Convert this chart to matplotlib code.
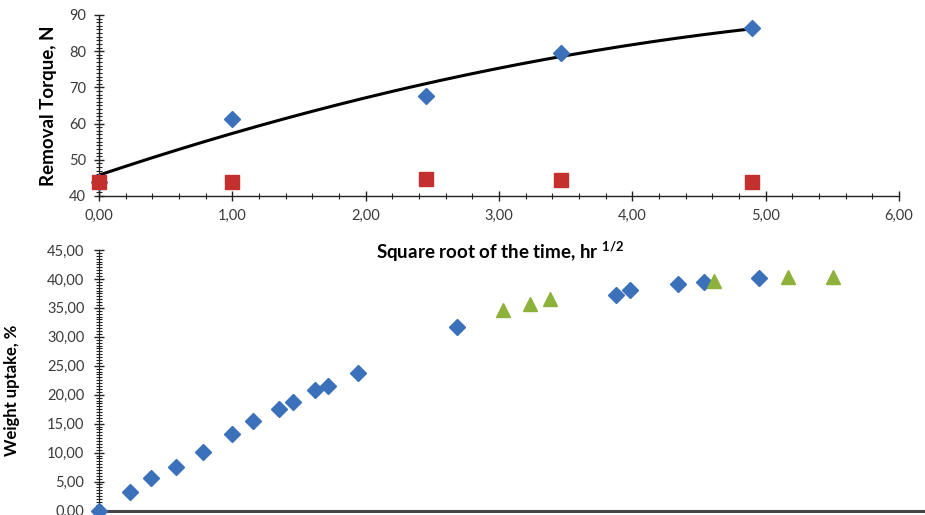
import numpy as np
import matplotlib
matplotlib.use("Agg")
import matplotlib.pyplot as plt
from matplotlib.ticker import MultipleLocator, FuncFormatter

plt.rcParams['font.family'] = ['Lato', 'DejaVu Sans']
plt.rcParams['mathtext.fontset'] = 'custom'
plt.rcParams['mathtext.rm'] = 'Lato'
plt.rcParams['mathtext.bf'] = 'Lato:bold'

# top chart: removal torque vs sqrt(time)
torque_x = [0.0, 1.0, 2.449, 3.464, 4.899]
torque_blue = [44.0, 61.3, 67.6, 79.5, 86.4]
torque_red = [43.8, 43.9, 44.7, 44.4, 43.9]

# bottom chart: weight uptake
uptake_blue_x = [0.0, 0.233, 0.39, 0.575, 0.782, 0.995, 1.157, 1.353, 1.458,
                 1.62, 1.72, 1.94, 2.683, 3.876, 3.983, 4.34, 4.54, 4.95]
uptake_blue_y = [0.0, 3.26, 5.69, 7.6, 10.16, 13.28, 15.42, 17.45, 18.72,
                 20.75, 21.49, 23.7, 31.63, 37.3, 38.1, 39.15, 39.44, 40.14]
uptake_green_x = [3.03, 3.23, 3.38, 4.61, 5.17, 5.51]
uptake_green_y = [34.7, 35.7, 36.5, 39.7, 40.4, 40.4]

blue = '#3b70bb'
red = '#c3302d'
green = '#8db23b'
tick_col = '#3a3a3a'

def comma(fmt):
    return FuncFormatter(lambda v, p: (fmt % v).replace('.', ','))

fig = plt.figure(figsize=(9.25, 5.15), dpi=100)

# ---- top
ax1 = fig.add_axes([99/925, 1-196/515, 800/925, 181/515])
coef = np.polyfit(torque_x, torque_blue, 2)
xs = np.linspace(0, max(torque_x), 200)
ax1.plot(xs, np.polyval(coef, xs), color='black', lw=2.2, zorder=2)
ax1.plot(torque_x, torque_blue, 'D', color=blue, ms=8.5, zorder=3, clip_on=False)
ax1.plot(torque_x, torque_red, 's', color=red, ms=10.5, zorder=4, clip_on=False)
ax1.set_xlim(0, 6)
ax1.set_ylim(40, 90)
ax1.xaxis.set_major_locator(MultipleLocator(1))
ax1.xaxis.set_minor_locator(MultipleLocator(0.2))
ax1.yaxis.set_major_locator(MultipleLocator(10))
ax1.yaxis.set_minor_locator(MultipleLocator(1))
ax1.xaxis.set_major_formatter(comma('%.2f'))
for s in ['top', 'right']:
    ax1.spines[s].set_visible(False)
for s in ['left', 'bottom']:
    ax1.spines[s].set_color('#222222')
    ax1.spines[s].set_linewidth(1.0)
ax1.tick_params(which='major', direction='inout', length=7, width=1, color='#222222',
                labelsize=10.5, labelcolor=tick_col)
ax1.tick_params(which='minor', direction='inout', length=4, width=0.8, color='#222222')
ax1.tick_params(axis='x', pad=6)
ax1.tick_params(axis='y', pad=6)
ax1.set_ylabel('Removal Torque, N', fontsize=13.5, fontweight='bold')
ax1.yaxis.set_label_coords(-0.0525, 0.5)
ax1.patch.set_alpha(0)

# ---- bottom
ax2 = fig.add_axes([99/925, 1-510.5/515, 826/925, 260.5/515], zorder=-1)
ax2.plot(uptake_blue_x, uptake_blue_y, 'D', color=blue, ms=8.5, zorder=3, clip_on=False)
ax2.plot(uptake_green_x, uptake_green_y, '^', color=green, ms=10.5, zorder=3)
ax2.set_xlim(0, 826/133.3)
ax2.set_ylim(0, 45)
ax2.yaxis.set_major_locator(MultipleLocator(5))
ax2.yaxis.set_minor_locator(MultipleLocator(0.5))
ax2.yaxis.set_major_formatter(comma('%.2f'))
ax2.set_xticks([])
for s in ['top', 'right']:
    ax2.spines[s].set_visible(False)
ax2.spines['left'].set_color('#222222')
ax2.spines['bottom'].set_color('#454545')
ax2.spines['bottom'].set_linewidth(2.2)
ax2.tick_params(axis='y', which='major', direction='inout', length=7, width=1,
                color='#222222', labelsize=10.5, labelcolor=tick_col, pad=7)
ax2.tick_params(axis='y', which='minor', direction='inout', length=4, width=0.8,
                color='#222222')
ax2.set_ylabel('Weight uptake, %', fontsize=12, fontweight='bold')
ax2.yaxis.set_label_coords(-0.0956, 0.462)

fig.text(500/925, 1-252/515, r'Square root of the time, hr $^{\mathbf{1/2}}$',
         ha='center', va='center', fontsize=13.5, fontweight='bold')

fig.savefig('out.png', dpi=100)
